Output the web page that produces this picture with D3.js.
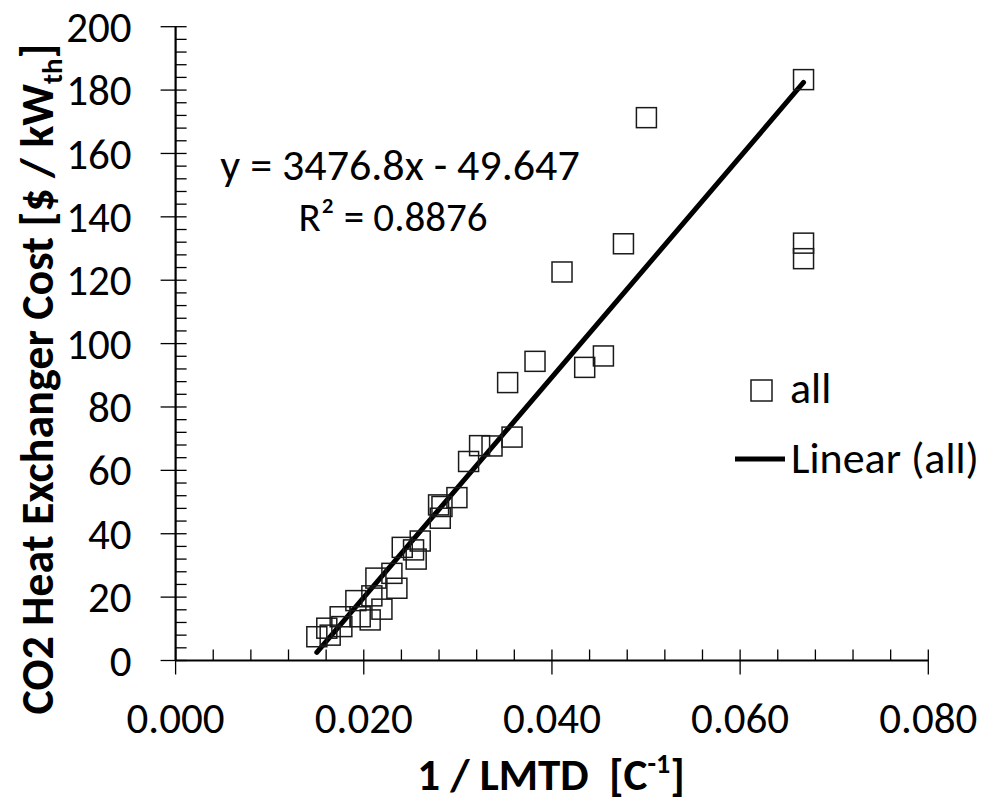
<!DOCTYPE html>
<html><head><meta charset="utf-8">
<script src="https://cdn.jsdelivr.net/npm/d3@7"></script>
<style>
html,body{margin:0;padding:0;background:#fff;}
svg{display:block;}
text{font-family:Carlito, Calibri, Lato, "Open Sans", sans-serif;fill:#000;}
</style></head>
<body>
<svg id="chart" width="986" height="808"></svg>
<script>
// ---- data ----
const xValues = [0.06674,0.05004,0.04760,0.04107,0.06674,0.06674,0.03529,0.03820,0.04348,0.04547,
  0.03576,0.03231,0.03363,0.03114,0.02990,0.02795,0.02831,0.02813,0.02600,0.02409,
  0.02529,0.02557,0.02299,0.02352,0.02129,0.02086,0.01916,0.02193,0.01749,0.01962,
  0.02068,0.01607,0.01767,0.01501,0.01643];
const yValues = [183.3,171.3,131.5,122.6,131.7,126.8,87.7,94.4,92.5,96.1,
  70.5,67.8,67.7,62.8,51.4,49.1,48.6,44.9,37.7,35.7,
  34.9,32.0,27.5,22.8,26.0,20.4,18.9,16.2,13.8,13.8,
  12.8,10.2,10.7,7.5,8.0];
const trendSlope = 3476.8, trendIntercept = -49.647;
const xTicks = [0,0.02,0.04,0.06,0.08];
const xTickLabels = ["0.000","0.020","0.040","0.060","0.080"];
const yTicks = [0,20,40,60,80,100,120,140,160,180,200];
const equationText = "y = 3476.8x - 49.647";
const r2Value = "0.8876";
const legendLabels = ["all","Linear (all)"];

// ---- layout ----
const svg = d3.select("#chart");
const x = d3.scaleLinear().domain([0,0.08]).range([175.6,928.3]);
const y = d3.scaleLinear().domain([0,200]).range([660.5,26.7]);
const fsTick = 43, fsText = 44;

// minor ticks
const xMinor = d3.range(0,0.0801,0.004).filter(v=>!xTicks.some(t=>Math.abs(t-v)<1e-9));
const yMinor = d3.range(0,200.1,4).filter(v=>v%20!==0);
const g = svg.append("g");
g.selectAll("line.xm").data(xMinor).join("line")
  .attr("x1",d=>x(d)).attr("x2",d=>x(d)).attr("y1",y(0)-11).attr("y2",y(0))
  .attr("stroke","#000").attr("stroke-width",1.3);
g.selectAll("line.xM").data(xTicks).join("line")
  .attr("x1",d=>x(d)).attr("x2",d=>x(d)).attr("y1",y(0)-11).attr("y2",y(0)+14)
  .attr("stroke","#000").attr("stroke-width",1.3);
g.selectAll("line.ym").data(yMinor).join("line")
  .attr("y1",d=>y(d)).attr("y2",d=>y(d)).attr("x1",x(0)).attr("x2",x(0)+11)
  .attr("stroke","#000").attr("stroke-width",1.3);
g.selectAll("line.yM").data(yTicks).join("line")
  .attr("y1",d=>y(d)).attr("y2",d=>y(d)).attr("x1",x(0)-15).attr("x2",x(0)+11)
  .attr("stroke","#000").attr("stroke-width",1.3);
// axis lines
g.append("line").attr("x1",x(0)).attr("x2",x(0.08)).attr("y1",y(0)).attr("y2",y(0))
  .attr("stroke","#000").attr("stroke-width",2.2);
g.append("line").attr("x1",x(0)).attr("x2",x(0)).attr("y1",y(0)).attr("y2",y(200))
  .attr("stroke","#000").attr("stroke-width",2.2);

// tick labels
g.selectAll("text.xl").data(xTicks).join("text")
  .attr("x",d=>x(d)).attr("y",y(0)+72).attr("text-anchor","middle")
  .style("font-size",fsTick+"px").text((d,i)=>xTickLabels[i]);
g.selectAll("text.yl").data(yTicks).join("text")
  .attr("x",x(0)-44).attr("y",d=>y(d)).attr("dy","0.35em").attr("text-anchor","end")
  .style("font-size",fsTick+"px").text(d=>d);

// axis titles
const xt = svg.append("text").attr("x",551).attr("y",790).attr("text-anchor","middle")
  .style("font-size","45px").style("font-weight","bold");
xt.append("tspan").text("1 / LMTD\u00a0\u00a0[C");
xt.append("tspan").attr("dy",-17).style("font-size","28px").text("-1");
xt.append("tspan").attr("dy",17).text("]");

const yt = svg.append("text").attr("transform","translate(53,379) rotate(-90)")
  .attr("text-anchor","middle").style("font-size","46px").style("font-weight","bold");
yt.append("tspan").text("CO2 Heat Exchanger Cost [$ / kW");
yt.append("tspan").attr("dy",9).style("font-size","29px").text("th");
yt.append("tspan").attr("dy",-9).text("]");

// trendline
const xMin = d3.min(xValues), xMax = d3.max(xValues);
const line = d3.line().x(d=>x(d)).y(d=>y(trendSlope*d+trendIntercept));
svg.append("path").datum([xMin,xMax]).attr("d",line)
  .attr("stroke","#000").attr("stroke-width",5).attr("stroke-linecap","round").attr("fill","none");

// markers
const ms = 20;
svg.selectAll("rect.pt").data(xValues).join("rect")
  .attr("x",(d)=>x(d)-ms/2).attr("y",(d,i)=>y(yValues[i])-ms/2)
  .attr("width",ms).attr("height",ms)
  .attr("fill","none").attr("stroke","#1a1a1a").attr("stroke-width",1.5);

// equation
svg.append("text").attr("x",400).attr("y",180).attr("text-anchor","middle")
  .style("font-size",fsText+"px").text(equationText);
svg.append("text").attr("x",393).attr("y",231).attr("text-anchor","middle")
  .style("font-size","41px").text("R\u00b2 = " + r2Value);

// legend
svg.append("rect").attr("x",751).attr("y",380).attr("width",21).attr("height",21)
  .attr("fill","none").attr("stroke","#1a1a1a").attr("stroke-width",1.5);
svg.append("text").attr("x",790).attr("y",403).style("font-size",fsText+"px").text(legendLabels[0]);
svg.append("line").attr("x1",735).attr("x2",785).attr("y1",459).attr("y2",459)
  .attr("stroke","#000").attr("stroke-width",5);
svg.append("text").attr("x",791).attr("y",473).style("font-size",fsText+"px").text(legendLabels[1]);
</script>
</body></html>
